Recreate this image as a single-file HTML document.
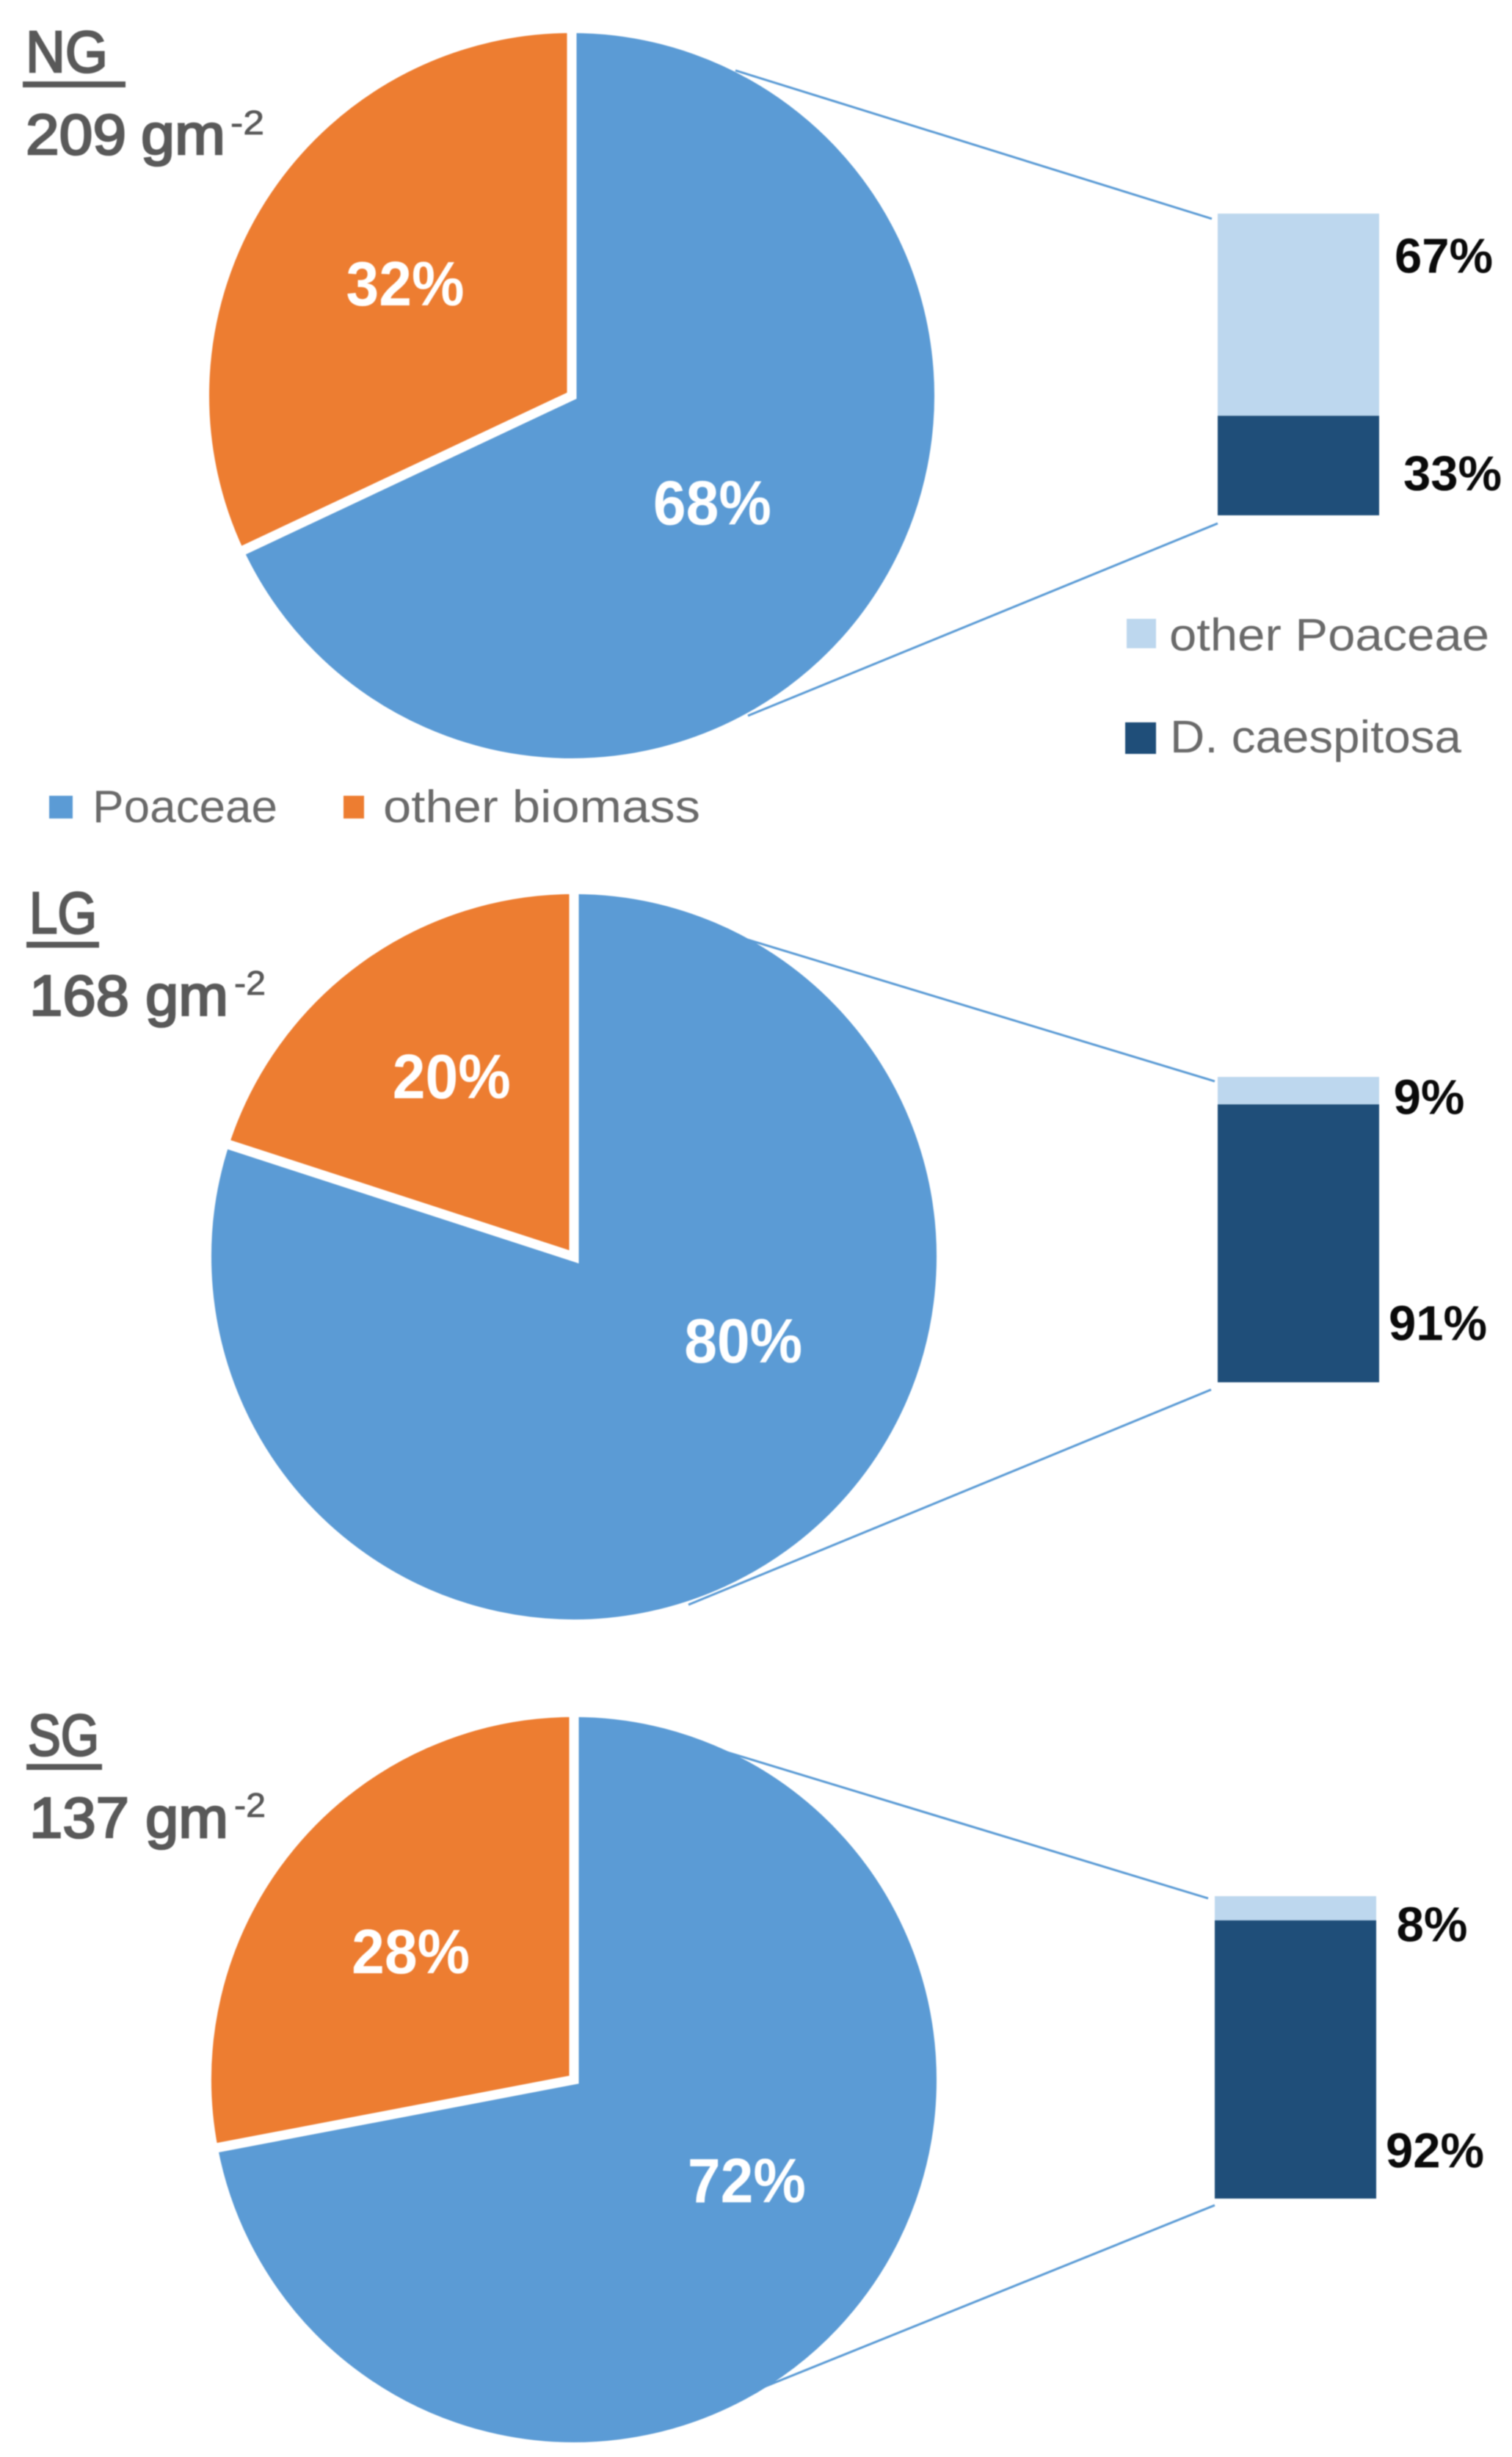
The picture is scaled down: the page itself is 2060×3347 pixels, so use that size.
<!DOCTYPE html>
<html lang="en">
<head>
<meta charset="utf-8">
<title>Biomass composition: NG, LG and SG</title>
<style>
  html, body { margin: 0; padding: 0; background: #ffffff; }
  svg { display: block; filter: blur(0.9px); }
  text { font-family: "Liberation Sans", sans-serif; }
  .head { fill: #595959; stroke: #595959; stroke-width: 2.6px; }
  .legend { fill: #6a6a6a; font-size: 62px; }
</style>
</head>
<body>
<svg id="chart" xmlns="http://www.w3.org/2000/svg" width="2060" height="3347" viewBox="0 0 2060 3347">
  <rect x="0" y="0" width="2060" height="3347" fill="#ffffff"/>

  <g id="plots"></g>

  <g>
    <text class="head" x="35" y="98" font-size="80" textLength="112" lengthAdjust="spacingAndGlyphs">NG</text>
    <rect x="31" y="111" width="140" height="8" fill="#595959"/>
    <text class="head" x="35" y="210" font-size="78" textLength="137" lengthAdjust="spacingAndGlyphs">209</text>
    <text class="head" x="192" y="210" font-size="78" textLength="115" lengthAdjust="spacingAndGlyphs">gm</text>
    <text class="head" style="stroke-width:.8px" x="314" y="183" font-size="46" textLength="46" lengthAdjust="spacingAndGlyphs">-2</text>
  </g>

  <g>
    <text class="head" x="40" y="1271" font-size="80" textLength="92" lengthAdjust="spacingAndGlyphs">LG</text>
    <rect x="36" y="1283" width="99" height="8" fill="#595959"/>
    <text class="head" x="40" y="1383" font-size="78" textLength="136" lengthAdjust="spacingAndGlyphs">168</text>
    <text class="head" x="198" y="1383" font-size="78" textLength="113" lengthAdjust="spacingAndGlyphs">gm</text>
    <text class="head" style="stroke-width:.8px" x="319" y="1355" font-size="46" textLength="43" lengthAdjust="spacingAndGlyphs">-2</text>
  </g>

  <g>
    <text class="head" x="38" y="2391" font-size="80" textLength="97" lengthAdjust="spacingAndGlyphs">SG</text>
    <rect x="36" y="2403" width="103" height="8" fill="#595959"/>
    <text class="head" x="40" y="2503" font-size="78" textLength="136" lengthAdjust="spacingAndGlyphs">137</text>
    <text class="head" x="198" y="2503" font-size="78" textLength="113" lengthAdjust="spacingAndGlyphs">gm</text>
    <text class="head" style="stroke-width:.8px" x="319" y="2475" font-size="46" textLength="43" lengthAdjust="spacingAndGlyphs">-2</text>
  </g>

  <g>
    <g>
      <rect x="67" y="1084" width="32" height="31" fill="#5B9BD5"/>
      <text class="legend" x="126" y="1120" textLength="252" lengthAdjust="spacingAndGlyphs">Poaceae</text>
    </g>
    <g>
      <rect x="468" y="1084" width="28" height="31" fill="#ED7D31"/>
      <text class="legend" x="522" y="1120" textLength="432" lengthAdjust="spacingAndGlyphs">other biomass</text>
    </g>
  </g>

  <g>
    <g>
      <rect x="1535" y="843" width="40" height="40" fill="#BDD7EE"/>
      <text class="legend" x="1593" y="886" textLength="436" lengthAdjust="spacingAndGlyphs">other Poaceae</text>
    </g>
    <g>
      <rect x="1533" y="984" width="42" height="43" fill="#1F4E79"/>
      <text class="legend" x="1594" y="1025" textLength="397" lengthAdjust="spacingAndGlyphs">D. caespitosa</text>
    </g>
  </g>
</svg>

<script>
// Chart data
const panelNames = ['NG', 'LG', 'SG'];
const poaceaeShare = [68, 80, 72];
const otherBiomassShare = [32, 20, 28];
const otherPoaceaeShare = [67, 9, 8];
const dCaespitosaShare = [33, 91, 92];

const BLUE = '#5B9BD5', ORANGE = '#ED7D31', LIGHT = '#BDD7EE', DARK = '#1F4E79';
const SVG_NS = 'http://www.w3.org/2000/svg';
const plots = document.getElementById('plots');

function make(tag, attrs, parent) {
  const node = document.createElementNS(SVG_NS, tag);
  Object.keys(attrs).forEach(function (k) { node.setAttribute(k, attrs[k]); });
  parent.appendChild(node);
  return node;
}

// Layout of each panel: geometry only, no values
function panelLayout(i) {
  if (i === 0) return {
    cx: 779, cy: 539, barLeft: 1659, barTop: 291, barHeight: 411,
    upper: [1002, 96, 1651, 298], lower: [1019, 975, 1659, 713],
    pieNudge: [[-38, -1], [2.4, -8.4]], barNudge: [[88, -81], [100, 10]]
  };
  if (i === 1) return {
    cx: 782, cy: 1712, barLeft: 1659, barTop: 1467, barHeight: 416,
    upper: [1002, 1275, 1655, 1473], lower: [938, 2186, 1650, 1893],
    pieNudge: [[71, -107], [-7, -27]], barNudge: [[68, 8], [80, 108]]
  };
  return {
    cx: 782, cy: 2833, barLeft: 1655, barTop: 2583, barHeight: 412,
    upper: [981, 2384, 1646, 2586], lower: [1020, 3260, 1655, 3004],
    pieNudge: [[26, -37], [-13, -3]], barNudge: [[76, 21], [80, 123]]
  };
}

const PIE_R = 500.5, PIE_GAP = 13, BAR_W = 220, LABEL_R = 271.7;

// Angle axis: share of the pie (percent) to degrees clockwise from 12 o'clock
function shareToAngle(share, total) { return share / total * 360; }

function polar(cx, cy, r, deg) {
  const a = deg * Math.PI / 180;
  return [cx + r * Math.sin(a), cy - r * Math.cos(a)];
}

function slicePath(cx, cy, r, a0, a1) {
  const p0 = polar(cx, cy, r, a0), p1 = polar(cx, cy, r, a1);
  const large = (a1 - a0) > 180 ? 1 : 0;
  return 'M' + cx + ' ' + cy + 'L' + p0[0] + ' ' + p0[1] +
         'A' + r + ' ' + r + ' 0 ' + large + ' 1 ' + p1[0] + ' ' + p1[1] + 'Z';
}

function drawPanel(i) {
  const key = panelNames[i].toLowerCase();
  const lay = panelLayout(i);
  const group = make('g', {}, plots);
  
  

  // pie
  const pieTotal = poaceaeShare[i] + otherBiomassShare[i];
  const split = shareToAngle(poaceaeShare[i], pieTotal);

  const blue = make('path', { d: slicePath(lay.cx, lay.cy, PIE_R, 0, split), fill: BLUE, stroke: '#ffffff', 'stroke-width': PIE_GAP, 'stroke-linejoin': 'miter', 'stroke-miterlimit': 10 }, group);
  
  

  const orange = make('path', { d: slicePath(lay.cx, lay.cy, PIE_R, split, 360), fill: ORANGE, stroke: '#ffffff', 'stroke-width': PIE_GAP, 'stroke-linejoin': 'miter', 'stroke-miterlimit': 10 }, group);
  
  

  // connector lines are drawn after the pie so its white outline does not cut them
  [lay.upper, lay.lower].forEach(function (c, n) {
    const line = make('line', { x1: c[0], y1: c[1], x2: c[2], y2: c[3], stroke: BLUE, 'stroke-width': 3 }, group);
    
    
  });

  // pie labels: anchored on slice mid-angle, then nudged
  const midBlue = polar(lay.cx, lay.cy, LABEL_R, split / 2);
  const midOrange = polar(lay.cx, lay.cy, LABEL_R, (split + 360) / 2);

  const blueLabel = make('text', { x: midBlue[0] + lay.pieNudge[0][0], y: midBlue[1] + lay.pieNudge[0][1] + 31, fill: '#ffffff', 'font-size': 85, 'font-weight': 'bold', 'text-anchor': 'middle', textLength: 161, lengthAdjust: 'spacingAndGlyphs' }, group);
  blueLabel.textContent = poaceaeShare[i] + '%';
  
  

  const orangeLabel = make('text', { x: midOrange[0] + lay.pieNudge[1][0], y: midOrange[1] + lay.pieNudge[1][1] + 31, fill: '#ffffff', 'font-size': 85, 'font-weight': 'bold', 'text-anchor': 'middle', textLength: 161, lengthAdjust: 'spacingAndGlyphs' }, group);
  orangeLabel.textContent = otherBiomassShare[i] + '%';
  
  

  // stacked bar, with a linear y axis over the segment total
  const barTotal = otherPoaceaeShare[i] + dCaespitosaShare[i];
  const yOf = function (v) { return lay.barTop + v / barTotal * lay.barHeight; };
  const barRight = lay.barLeft + BAR_W;
  const y0 = yOf(0), y1 = yOf(otherPoaceaeShare[i]), y2 = yOf(barTotal);

  const topSeg = make('rect', { x: lay.barLeft, y: y0, width: BAR_W, height: y1 - y0, fill: LIGHT }, group);
  
  

  const lowSeg = make('rect', { x: lay.barLeft, y: y1, width: BAR_W, height: y2 - y1, fill: DARK }, group);
  
  

  const topLabel = make('text', { x: barRight + lay.barNudge[0][0], y: (y0 + y1) / 2 + lay.barNudge[0][1] + 24, fill: '#0a0a0a', 'font-size': 67, 'font-weight': 'bold', 'text-anchor': 'middle' }, group);
  topLabel.textContent = otherPoaceaeShare[i] + '%';
  
  

  const lowLabel = make('text', { x: barRight + lay.barNudge[1][0], y: (y1 + y2) / 2 + lay.barNudge[1][1] + 24, fill: '#0a0a0a', 'font-size': 67, 'font-weight': 'bold', 'text-anchor': 'middle' }, group);
  lowLabel.textContent = dCaespitosaShare[i] + '%';
  
  
}

panelNames.forEach(function (_, i) { drawPanel(i); });
</script>
</body>
</html>
